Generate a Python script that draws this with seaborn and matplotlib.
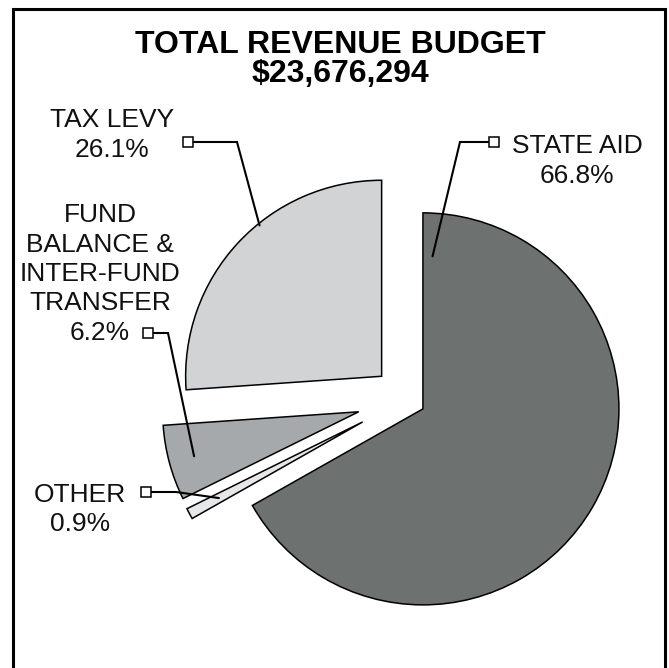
import numpy as np
import matplotlib
matplotlib.use("Agg")
import matplotlib.pyplot as plt
import seaborn as sns

# ---------------- data ----------------
categories = ["STATE AID", "OTHER", "FUND BALANCE & INTER-FUND TRANSFER", "TAX LEVY"]
shares = [66.8, 0.9, 6.2, 26.1]
label_names = [["STATE AID"], ["OTHER"], ["FUND", "BALANCE &", "INTER-FUND", "TRANSFER"], ["TAX LEVY"]]
title_lines = ["TOTAL REVENUE BUDGET", "$23,676,294"]

# ---------------- style ----------------
sns.set_theme(style="white")
plt.rcParams['font.family'] = ['Liberation Sans', 'DejaVu Sans']

colors = ["#6d7170", "#e6e7e8", "#a6a9ab", "#d1d3d4"]
R = 196
explode_frac = [0.10, 0.25, 0.25, 0.17]

W, H = 669, 668
def Y(y):
    return H - y

fig = plt.figure(figsize=(W / 100, H / 100), dpi=100)
ax = fig.add_axes([0, 0, 1, 1])

wedges, _ = ax.pie(shares, explode=[e * R for e in explode_frac], colors=colors,
                   startangle=90, counterclock=False, radius=R,
                   center=(406, Y(399)),
                   wedgeprops=dict(edgecolor="black", linewidth=1.1))
ax.set_xlim(0, W)
ax.set_ylim(0, H)
ax.set_aspect("equal")
ax.axis("off")

# frame (open at bottom)
ax.plot([13, 13, 665, 665], [Y(675), Y(9), Y(9), Y(675)], color="black",
        lw=2.2, solid_joinstyle="miter", clip_on=False)

# title
ax.text(340, Y(53.3), title_lines[0], ha="center", va="baseline",
        fontsize=23, fontweight="bold", color="black")
ax.text(340, Y(81.7), title_lines[1], ha="center", va="baseline",
        fontsize=23, fontweight="bold", color="black")

# label layout
layout = [
    dict(x=577, y0=153, step=30, sq=(494, 142), elb=(460, 142), t=0.985, r=0.78),
    dict(x=80, y0=502, step=29, sq=(146, 492), elb=(176, 492), t=0.5, r=0.83),
    dict(x=100, y0=222, step=29.5, sq=(148, 333), elb=(168, 333), t=0.5, r=0.87),
    dict(x=112, y0=127, step=30, sq=(188, 142), elb=(237, 142), t=0.415, r=0.99),
]

fs = 19
for w, val, names, L in zip(wedges, shares, label_names, layout):
    lines = names + [f"{val:.1f}%"]
    for i, s in enumerate(lines):
        ax.text(L["x"], Y(L["y0"] + i * L["step"]), s, ha="center", va="baseline",
                fontsize=fs, color="#111111")
    th = np.deg2rad(w.theta1 + L["t"] * (w.theta2 - w.theta1))
    cx, cy = w.center
    ex = cx + L["r"] * w.r * np.cos(th)
    ey = cy + L["r"] * w.r * np.sin(th)
    sx, sy = L["sq"]
    bx, by = L["elb"]
    ax.plot([sx, bx, ex], [Y(sy), Y(by), ey], color="black", lw=1.5, zorder=5,
            solid_joinstyle="miter")
    ax.plot([sx], [Y(sy)], marker="s", markersize=7.2, markerfacecolor="white",
            markeredgecolor="black", markeredgewidth=1.1, zorder=6)

fig.savefig("out.png", dpi=100)
